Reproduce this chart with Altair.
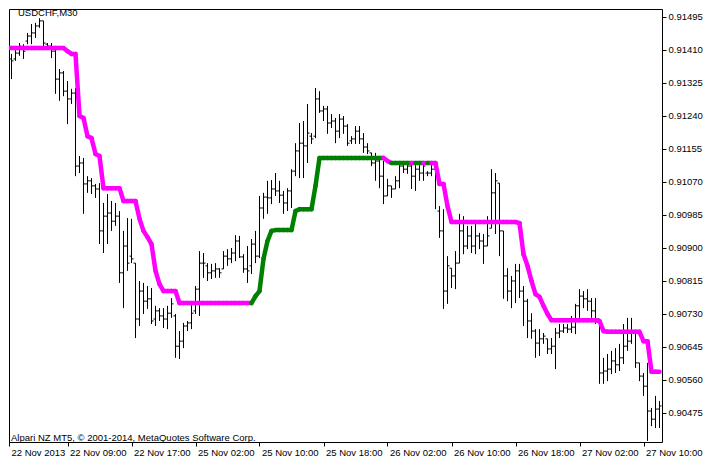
import altair as alt
import pandas as pd

# ---------------- data (prices in points, 1 point = 0.00001) ----------------
x_tick_labels = ["22 Nov 2013", "22 Nov 09:00", "22 Nov 17:00", "25 Nov 02:00",
                 "25 Nov 10:00", "25 Nov 18:00", "26 Nov 02:00", "26 Nov 10:00",
                 "26 Nov 18:00", "27 Nov 02:00", "27 Nov 10:00"]
x_tick_bars = [1.375, 16, 32, 48, 64, 80, 96, 112, 128, 144, 160]
y_tick_values = [0.90475, 0.90560, 0.90645, 0.90730, 0.90815, 0.90900, 0.90985,
                 0.91070, 0.91155, 0.91240, 0.91325, 0.91410, 0.91495]

high_pts = [91413, 91400, 91415, 91428, 91425, 91454, 91477, 91480, 91492, 91485,
            91428, 91428, 91413, 91361, 91356, 91330, 91310, 91312, 91137, 91132,
            91085, 91080, 91065, 91067, 91016, 91039, 91021, 91016, 90995, 90944,
            90977, 90975, 90861, 90815, 90810, 90802, 90797, 90751, 90745, 90745,
            90751, 90771, 90730, 90686, 90707, 90712, 90756, 90802, 90892, 90887,
            90861, 90859, 90861, 90848, 90892, 90897, 90900, 90933, 90931, 90884,
            90905, 90923, 90944, 91034, 91042, 91073, 91075, 91093, 91073, 91047,
            91054, 91103, 91170, 91222, 91227, 91271, 91196, 91312, 91304, 91266,
            91266, 91245, 91235, 91245, 91240, 91219, 91188, 91214, 91214, 91196,
            91170, 91145, 91145, 91132, 91124, 91078, 91060, 91085, 91124, 91116,
            91119, 91124, 91119, 91119, 91124, 91098, 91116, 91119, 91008, 91000,
            90879, 90848, 90892, 90988, 90982, 90957, 90957, 90962, 90939, 90936,
            90982, 91103, 91093, 91067, 90944, 90848, 90828, 90859, 90859, 90802,
            90769, 90732, 90691, 90691, 90681, 90666, 90668, 90694, 90704, 90704,
            90704, 90725, 90756, 90794, 90789, 90794, 90771, 90771, 90717, 90617,
            90627, 90635, 90642, 90653, 90704, 90720, 90720, 90681, 90604, 90578,
            90604, 90488, 90519, 90506]
low_pts = [91369, 91335, 91382, 91395, 91387, 91425, 91425, 91441, 91467, 91420,
           91413, 91389, 91297, 91279, 91291, 91219, 91271, 91085, 91093, 90988,
           91042, 91039, 91029, 90910, 90887, 90910, 90944, 90957, 90810, 90745,
           90841, 90861, 90668, 90699, 90730, 90743, 90704, 90699, 90712, 90694,
           90691, 90720, 90617, 90614, 90642, 90686, 90691, 90730, 90725, 90823,
           90815, 90820, 90823, 90823, 90846, 90854, 90861, 90866, 90874, 90836,
           90810, 90833, 90861, 90874, 90975, 90988, 91013, 91034, 91016, 90988,
           90995, 91003, 91085, 91080, 91080, 91119, 91168, 91183, 91248, 91227,
           91194, 91209, 91170, 91183, 91194, 91163, 91168, 91168, 91168, 91145,
           91142, 91111, 91073, 91054, 91013, 91034, 91029, 91052, 91054, 91093,
           91091, 91052, 91047, 91073, 91073, 91085, 91085, 91000, 90926, 90743,
           90756, 90797, 90794, 90861, 90884, 90897, 90887, 90884, 90897, 90859,
           90905, 90951, 90936, 90879, 90769, 90763, 90745, 90758, 90771, 90699,
           90668, 90666, 90617, 90622, 90653, 90627, 90627, 90588, 90668, 90681,
           90681, 90681, 90678, 90720, 90745, 90738, 90720, 90704, 90550, 90550,
           90557, 90575, 90578, 90583, 90601, 90635, 90653, 90591, 90557, 90519,
           90403, 90441, 90436, 90436]
open_pts = [91395, 91387, 91387, 91402, 91415, 91433, 91446, 91454, 91472, 91485,
            91425, 91420, 91407, 91335, 91351, 91304, 91284, 91299, 91111, 91119,
            91065, 91073, 91060, 91052, 90944, 90982, 90990, 90969, 90982, 90836,
            90905, 90879, 90861, 90717, 90789, 90763, 90769, 90717, 90738, 90725,
            90717, 90732, 90725, 90647, 90660, 90699, 90707, 90738, 90794, 90861,
            90854, 90836, 90841, 90846, 90846, 90879, 90872, 90887, 90918, 90877,
            90846, 90854, 90910, 90879, 91003, 91031, 91029, 91052, 91047, 91036,
            91016, 91047, 91098, 91150, 91170, 91163, 91188, 91188, 91284, 91253,
            91258, 91222, 91227, 91201, 91232, 91214, 91176, 91181, 91201, 91181,
            91160, 91145, 91119, 91124, 91085, 91034, 91060, 91052, 91073, 91111,
            91103, 91111, 91085, 91103, 91093, 91093, 91093, 91103, 90995, 90944,
            90789, 90848, 90828, 90861, 90944, 90905, 90931, 90905, 90931, 90918,
            90905, 90951, 91042, 91067, 90944, 90828, 90789, 90815, 90841, 90789,
            90763, 90712, 90686, 90655, 90666, 90666, 90640, 90647, 90681, 90686,
            90694, 90691, 90696, 90751, 90776, 90769, 90763, 90738, 90717, 90578,
            90583, 90588, 90609, 90599, 90617, 90647, 90660, 90681, 90604, 90570,
            90544, 90480, 90459, 90485]
close_pts = [91387, 91382, 91402, 91420, 91407, 91446, 91454, 91472, 91485, 91428,
             91420, 91407, 91335, 91351, 91304, 91284, 91299, 91111, 91119, 91065,
             91073, 91060, 91052, 90944, 90982, 90990, 90969, 90982, 90836, 90905,
             90861, 90872, 90717, 90789, 90763, 90769, 90712, 90738, 90725, 90717,
             90732, 90756, 90647, 90660, 90699, 90707, 90732, 90794, 90861, 90861,
             90836, 90841, 90846, 90836, 90879, 90872, 90887, 90918, 90877, 90846,
             90841, 90910, 90879, 91003, 91031, 91029, 91052, 91047, 91036, 91016,
             91047, 91098, 91150, 91170, 91163, 91196, 91181, 91284, 91253, 91258,
             91222, 91227, 91201, 91232, 91214, 91170, 91181, 91201, 91181, 91160,
             91150, 91119, 91124, 91085, 91034, 91060, 91052, 91073, 91111, 91103,
             91111, 91085, 91103, 91093, 91111, 91093, 91103, 91098, 90944, 90789,
             90854, 90828, 90861, 90944, 90905, 90931, 90905, 90931, 90918, 90905,
             90931, 91042, 91073, 90944, 90828, 90789, 90815, 90841, 90789, 90763,
             90712, 90686, 90655, 90666, 90673, 90640, 90647, 90681, 90686, 90694,
             90691, 90696, 90751, 90776, 90769, 90763, 90738, 90717, 90578, 90583,
             90588, 90609, 90599, 90617, 90647, 90660, 90686, 90604, 90570, 90544,
             90480, 90459, 90485, 90493]

# indicator line, bars 0..164
line_pts = [91415, 91415, 91415, 91415, 91415, 91415, 91415, 91415, 91415, 91415,
            91415, 91415, 91415, 91415, 91415, 91415, 91407, 91400, 91400, 91240,
            91235, 91188, 91183, 91142, 91137, 91054, 91054, 91054, 91054, 91054,
            91021, 91021, 91021, 91021, 90975, 90944, 90928, 90910, 90841, 90807,
            90789, 90789, 90789, 90789, 90758, 90758, 90758, 90758, 90758, 90758,
            90758, 90758, 90758, 90758, 90758, 90758, 90758, 90758, 90758, 90758,
            90758, 90758, 90758, 90776, 90789, 90872, 90918, 90944, 90946, 90946,
            90946, 90946, 90946, 90995, 91000, 91000, 91000, 91000, 91060, 91132,
            91132, 91132, 91132, 91132, 91132, 91132, 91132, 91132, 91132, 91132,
            91132, 91132, 91132, 91132, 91132, 91132, 91124, 91119, 91119, 91119,
            91119, 91119, 91119, 91119, 91119, 91119, 91119, 91119, 91119, 91065,
            91065, 91008, 90967, 90967, 90967, 90967, 90967, 90967, 90967, 90967,
            90967, 90967, 90967, 90967, 90967, 90967, 90967, 90967, 90967, 90964,
            90884, 90854, 90815, 90781, 90774, 90751, 90730, 90714, 90714, 90714,
            90714, 90714, 90714, 90714, 90714, 90714, 90714, 90714, 90714, 90712,
            90686, 90684, 90684, 90684, 90684, 90684, 90684, 90684, 90684, 90684,
            90660, 90660, 90581, 90581, 90581]
# trend colour of each bar's segment: m = magenta (down), g = green (up)
trend_codes = ("m" * 63 + "g" * 33 + "mm" + "g" * 5 + "m" + "gg" + "m" + "g" + "m" * 57)

# ---------------- tables ----------------
n = len(high_pts)
bars = pd.DataFrame({
    "k": list(range(1, n + 1)),
    "high": [v / 1e5 for v in high_pts],
    "low": [v / 1e5 for v in low_pts],
    "open": [v / 1e5 for v in open_pts],
    "close": [v / 1e5 for v in close_pts],
})
seg = pd.DataFrame({
    "k": list(range(1, len(line_pts))),
    "kp": list(range(0, len(line_pts) - 1)),
    "v": [v / 1e5 for v in line_pts[1:]],
    "vp": [v / 1e5 for v in line_pts[:-1]],
    "trend": ["up" if c == "g" else "down" for c in trend_codes[1:]],
})

W, H = 653, 433
FONT = "Liberation Sans"

xscale = alt.Scale(domain=[1.375, 164.625], nice=False, zero=False)
yscale = alt.Scale(domain=[0.904002, 0.915156], nice=False, zero=False)

label_arr = "[" + ",".join("'" + s + "'" for s in x_tick_labels) + "]"
xaxis = alt.Axis(values=x_tick_bars, labelExpr=label_arr + "[round(datum.value/16)]",
                 title=None, grid=False, domain=False, ticks=True, tickSize=4,
                 tickColor="black", labelColor="black", labelAlign="left",
                 labelBaseline="top", labelPadding=1, labelOffset=2,
                 labelFont=FONT, labelFontSize=9.5, labelOverlap=False,
                 labelFlush=False, labelBound=False)
yaxis = alt.Axis(values=y_tick_values, labelExpr="format(datum.value, '.5f')",
                 orient="right", title=None, grid=False, domain=False, tickSize=4,
                 tickColor="black", labelColor="black", labelPadding=2,
                 labelFont=FONT, labelFontSize=9.5, labelOverlap=False,
                 labelBaseline="middle")

X = alt.X("k:Q", scale=xscale, axis=xaxis)

wicks = alt.Chart(bars).mark_rule(color="black", strokeWidth=1, clip=True).encode(
    x=X, y=alt.Y("low:Q", scale=yscale, axis=yaxis), y2="high:Q")
opens = alt.Chart(bars).mark_rule(color="black", strokeWidth=1, xOffset=-2, clip=True).encode(
    x=X, x2="k:Q", y=alt.Y("open:Q", scale=yscale, axis=yaxis))
closes = alt.Chart(bars).mark_rule(color="black", strokeWidth=1, x2Offset=2, clip=True).encode(
    x=X, x2="k:Q", y=alt.Y("close:Q", scale=yscale, axis=yaxis))

segments = alt.Chart(seg).mark_rule(strokeWidth=4.5, strokeCap="round", clip=True).encode(
    x=alt.X("kp:Q", scale=xscale, axis=xaxis), x2="k:Q",
    y=alt.Y("vp:Q", scale=yscale, axis=yaxis), y2="v:Q",
    color=alt.Color("trend:N", scale=alt.Scale(domain=["down", "up"],
                                                range=["#FF00FF", "#008000"]),
                    legend=None))

title_txt = alt.Chart(pd.DataFrame({"t": ["USDCHF,M30"]})).mark_text(
    align="left", baseline="top", font=FONT, fontSize=9.5, color="black").encode(
    x=alt.value(9), y=alt.value(-1), text="t:N")
copy_txt = alt.Chart(pd.DataFrame({"t": ["Alpari NZ MT5, \u00a9 2001-2014, MetaQuotes Software Corp."]})).mark_text(
    align="left", baseline="middle", font=FONT, fontSize=9.5, color="black").encode(
    x=alt.value(2), y=alt.value(H - 4), text="t:N")

chart = alt.layer(wicks, opens, closes, segments, title_txt, copy_txt).properties(
    width=W, height=H, padding=0, background="white"
).configure_view(stroke="black", strokeWidth=1)

chart.save("out.html", embed_options={"renderer": "svg", "actions": False})
